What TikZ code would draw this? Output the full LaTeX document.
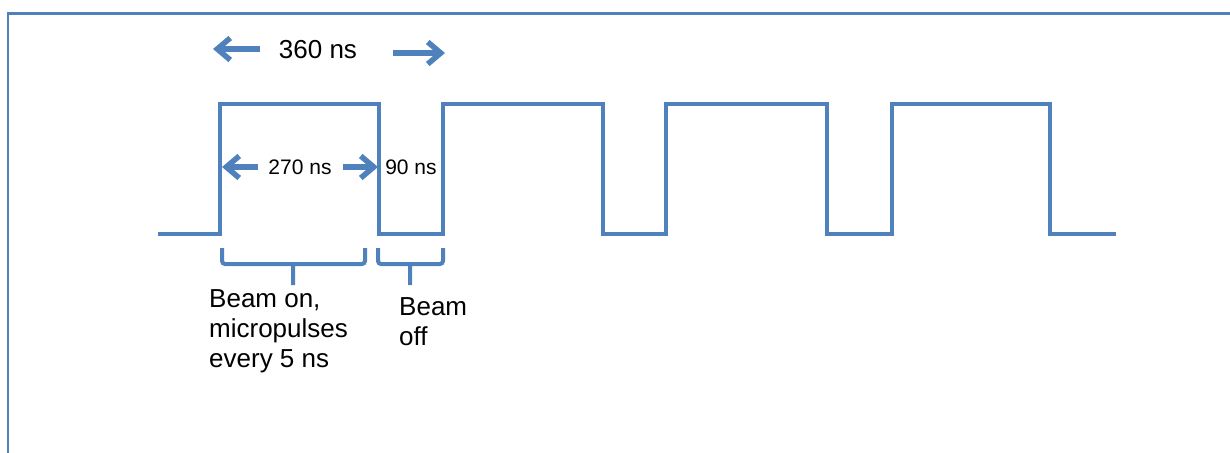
\documentclass[tikz,border=0pt]{standalone}
\usepackage{fontspec}
\setmainfont{Liberation Sans}
\usetikzlibrary{calc}
\usetikzlibrary{arrows.meta}
\definecolor{pulseblue}{HTML}{4F81BD}
\tikzset{
    frame/.style = {draw=pulseblue, line width=2.5pt},
    pulse/.style = {draw=pulseblue, line width=4pt},
    dimarrow/.style = {draw=pulseblue, line width=5.5pt,
        -{Straight Barb[length=13pt,width=22pt]}},
    brace/.style = {draw=pulseblue, line width=4pt, rounded corners=3pt},
    biglabel/.style = {font=\fontsize{26}{30}\selectfont, inner sep=0pt},
    smalllabel/.style = {font=\fontsize{21}{25}\selectfont, inner sep=0pt},
    note/.style = {font=\fontsize{26}{30}\selectfont, inner sep=0pt, align=left, anchor=north west}}

\begin{document}
\begin{tikzpicture}[x=1pt,y=-1pt]
    \useasboundingbox (0,0) rectangle (1230,452);
    \draw[frame] (8,480) -- (8,13.5) -- (1260,13.5);
    \path (158,234) coordinate (start)
        ++ (62,0) coordinate (rise1)
        ++ (159,0) coordinate (fall1)
        ++ (64,0) coordinate (rise2)
        ++ (160,0) coordinate (fall2)
        ++ (63,0) coordinate (rise3)
        ++ (161,0) coordinate (fall3)
        ++ (65,0) coordinate (rise4)
        ++ (158,0) coordinate (fall4)
        ++ (66,0) coordinate (stop);
    \draw[pulse] (start) -- (rise1) -- ++(0,-130) -| (fall1) -- (rise2) -- ++(0,-130) -| (fall2)
        -- (rise3) -- ++(0,-130) -| (fall3) -- (rise4) -- ++(0,-130) -| (fall4) -- (stop);
    \path (318,50) node[biglabel] (t360) {360 ns}
        + (-105,-1) coordinate (tip360l)
        + (127,3) coordinate (tip360r)
        (300,167) node[smalllabel] (t270) {270 ns}
        + (-78,0) coordinate (tip270l)
        + (78,0) coordinate (tip270r)
        (411,167) node[smalllabel] (t90) {90 ns};
    \draw[dimarrow, shorten <=19pt] (t360.west |- tip360l) -- (tip360l);
    \draw[dimarrow, shorten <=36pt] (t360.east |- tip360r) -- (tip360r);
    \draw[dimarrow, shorten <=10pt] (t270.west) -- (tip270l);
    \draw[dimarrow, shorten <=11pt] (t270.east) -- (tip270r);
    \path (222,248) coordinate (onl) (365,248) coordinate (onr) (293,285) coordinate (ontip)
        (378,248) coordinate (offl) (443,248) coordinate (offr) (410,285) coordinate (offtip);
    \draw[brace] (onl) -- ++(0,16) -- ($(onr)+(0,16)$) -- (onr)
        ($(ontip)+(0,-21)$) -- (ontip);
    \draw[brace] (offl) -- ++(0,16) -- ($(offr)+(0,16)$) -- (offr)
        ($(offtip)+(0,-21)$) -- (offtip);
    \node[note] (beamon) at (209,289) {Beam on,\\micropulses\\every 5 ns};
    \node[note] (beamoff) at (399,297) {Beam\\off};
\end{tikzpicture}
\end{document}
